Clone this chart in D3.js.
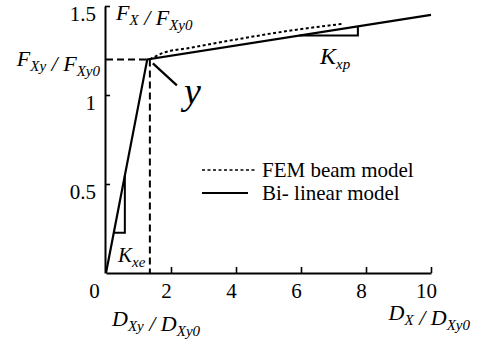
<!DOCTYPE html>
<html>
<head>
<meta charset="utf-8">
<script src="https://cdn.jsdelivr.net/npm/d3@7"></script>
</head>
<body style="margin:0; background:#fff">
<div class="chart"></div>
<script>
// values
let xTicks = [0, 2, 4, 6, 8, 10];
let yTicks = [0.5, 1, 1.5];
let bilinearX = [0, 1.27, 10];
let bilinearY = [0, 1.2, 1.45];
let femX = [1.35, 1.75, 2.6, 4.1, 5.6, 7.3];
let femY = [1.2, 1.236, 1.265, 1.315, 1.36, 1.40];
let yieldX = 1.35;
let yieldY = 1.2;
let legendLabels = ['FEM beam model', 'Bi- linear model'];

let width = 478, height = 341;
let margin = {top: 6, left: 106, right: 47, bottom: 68};
let fontName = 'Times New Roman';

let svg = d3.select('.chart')
	.append('svg')
	.attr('width', width)
	.attr('height', height);

let x = d3.scaleLinear().domain([0, 10]).range([margin.left, width - margin.right]);
let y = d3.scaleLinear().domain([0, 1.5]).range([height - margin.bottom, margin.top]);

// axes, ticks point inward
let xAxis = svg.append('g')
	.attr('transform', 'translate(0,' + y(0) + ')')
	.call(d3.axisBottom(x).tickValues(xTicks).tickSizeInner(-6).tickSizeOuter(0).tickPadding(10));
xAxis.attr('font-family', fontName).attr('font-size', 21);
xAxis.selectAll('.tick text')
	.attr('dx', d => d === 0 ? -12 : -5);
xAxis.selectAll('.tick').filter(d => d === 0).select('line').remove();

let yAxis = svg.append('g')
	.attr('transform', 'translate(' + (x(0) - 1) + ',0)')
	.call(d3.axisLeft(y).tickValues(yTicks).tickFormat(d3.format('')).tickSizeInner(-5).tickSizeOuter(0).tickPadding(9));
yAxis.attr('font-family', fontName).attr('font-size', 21);
yAxis.selectAll('.tick text')
	.attr('dy', '14px');

svg.selectAll('.domain').attr('stroke-width', 2);
svg.selectAll('.tick line').attr('stroke-width', 1.6);

// yield guide lines
svg.append('line')
	.attr('x1', x(0)).attr('x2', x(yieldX))
	.attr('y1', y(yieldY)).attr('y2', y(yieldY))
	.attr('stroke', '#000').attr('stroke-width', 2).attr('stroke-dasharray', '7,4');
svg.append('line')
	.attr('x1', x(yieldX)).attr('x2', x(yieldX))
	.attr('y1', y(yieldY)).attr('y2', y(0))
	.attr('stroke', '#000').attr('stroke-width', 2).attr('stroke-dasharray', '7,4');

let line = d3.line()
	.x(d => x(d[0]))
	.y(d => y(d[1]));

let bilinear = bilinearX.map((v, i) => [v, bilinearY[i]]);
let fem = femX.map((v, i) => [v, femY[i]]);

svg.append('path')
	.attr('d', d3.line().x(d => x(d[0])).y(d => y(d[1])).curve(d3.curveMonotoneX)(fem))
	.attr('fill', 'none').attr('stroke', '#000').attr('stroke-width', 2)
	.attr('stroke-dasharray', '3,2.5');

svg.append('path')
	.attr('d', line(bilinear))
	.attr('fill', 'none').attr('stroke', '#000').attr('stroke-width', 2.2);

// slope triangles under a segment
function slopeTri(p0, p1, xa, xb) {
	let at = v => p0[1] + (p1[1] - p0[1]) * (v - p0[0]) / (p1[0] - p0[0]);
	let pts = [[xa, at(xa)], [xb, at(xa)], [xb, at(xb)]];
	svg.append('path')
		.attr('d', line(pts))
		.attr('fill', 'none').attr('stroke', '#000').attr('stroke-width', 2);
}
slopeTri(bilinear[0], bilinear[1], 0.24, 0.58);
slopeTri(bilinear[1], bilinear[2], 5.95, 7.75);

// math style labels with subscripts
function mathText(parts, px, py, anchor, size) {
	let t = svg.append('text')
		.attr('x', px).attr('y', py)
		.attr('font-family', fontName)
		.attr('text-anchor', anchor || 'start')
		.attr('font-style', 'italic')
		.attr('font-size', size || 22);
	parts.forEach(p => {
		if (p.sub) {
			t.append('tspan').attr('dy', 5).attr('font-size', 15).text(p.t);
			t.append('tspan').attr('dy', -5).text('');
		} else {
			t.append('tspan').text(p.t);
		}
	});
	return t;
}

mathText([{t: 'F'}, {t: 'X', sub: true}, {t: ' / F'}, {t: 'Xy0', sub: true}], 116, 20);
mathText([{t: 'F'}, {t: 'Xy', sub: true}, {t: ' / F'}, {t: 'Xy0', sub: true}], 100, 66, 'end');
mathText([{t: 'D'}, {t: 'Xy', sub: true}, {t: ' / D'}, {t: 'Xy0', sub: true}], 112, 326);
mathText([{t: 'D'}, {t: 'X', sub: true}, {t: ' / D'}, {t: 'Xy0', sub: true}], 470, 320, 'end');
mathText([{t: 'K'}, {t: 'xp', sub: true}], 320, 64, 'start', 24);
mathText([{t: 'K'}, {t: 'xe', sub: true}], 118, 262, 'start', 21);

// yield point pointer
svg.append('line')
	.attr('x1', x(yieldX) + 3).attr('y1', y(yieldY) + 4)
	.attr('x2', x(yieldX) + 27).attr('y2', y(yieldY) + 26)
	.attr('stroke', '#000').attr('stroke-width', 2.2);
svg.append('text')
	.attr('x', 184).attr('y', 104)
	.attr('font-family', fontName)
	.attr('font-style', 'italic')
	.attr('font-size', 38)
	.text('y');

// legend
legendLabels.forEach((lab, i) => {
	let ly = 170 + i * 23;
	svg.append('line')
		.attr('x1', 202).attr('x2', i === 0 ? 256 : 248)
		.attr('y1', ly).attr('y2', ly)
		.attr('stroke', '#000').attr('stroke-width', i === 0 ? 1.6 : 1.8)
		.attr('stroke-dasharray', i === 0 ? '3,2.5' : null);
	svg.append('text')
		.attr('x', 262).attr('y', ly + 7)
		.attr('font-family', fontName)
		.attr('font-size', 21)
		.text(lab);
});
</script>
</body>
</html>
